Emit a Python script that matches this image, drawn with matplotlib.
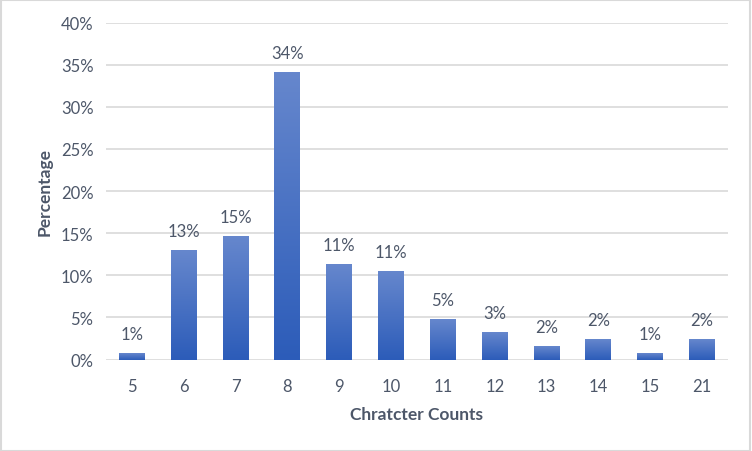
import matplotlib.pyplot as plt
import numpy as np
from matplotlib.colors import LinearSegmentedColormap
from matplotlib.ticker import PercentFormatter

categories = ['5', '6', '7', '8', '9', '10', '11', '12', '13', '14', '15', '21']
values = [0.008, 0.130, 0.147, 0.341, 0.113, 0.105, 0.048, 0.033, 0.016, 0.024, 0.008, 0.024]
labels = ['1%', '13%', '15%', '34%', '11%', '11%', '5%', '3%', '2%', '2%', '1%', '2%']

text_color = '#4d5769'
grid_color = '#d9d9d9'
plt.rcParams['font.family'] = ['Lato', 'DejaVu Sans']

fig = plt.figure(figsize=(7.52, 4.52), dpi=100)
ax = fig.add_axes([0.141, 0.2024, 0.827, 0.7452])

x = np.arange(len(categories))
bars = ax.bar(x, values, width=0.5, color='none', edgecolor='none', zorder=3)

# gradient fill per bar, light at top, dark at bottom
cmap = LinearSegmentedColormap.from_list('bar', ['#2c5cb9', '#6687cd'])
grad = np.linspace(0, 1, 256).reshape(-1, 1)
for b in bars:
    x0, y0 = b.get_x(), b.get_y()
    w, h = b.get_width(), b.get_height()
    im = ax.imshow(grad, cmap=cmap, origin='lower', aspect='auto',
                   extent=(x0, x0 + w, y0, y0 + h), zorder=3)
    im.set_clip_path(b)

for xi, v, lab in zip(x, values, labels):
    ax.annotate(lab, (xi, v), xytext=(0, 8), textcoords='offset points',
                ha='center', va='bottom', fontsize=12, color=text_color)

ax.set_xlim(-0.5, len(categories) - 0.5)
ax.set_ylim(0, 0.40)
ax.set_yticks(np.arange(0, 0.41, 0.05))
ax.yaxis.set_major_formatter(PercentFormatter(1.0, decimals=0))
ax.set_xticks(x)
ax.set_xticklabels(categories)
ax.tick_params(axis='both', length=0, labelsize=12, colors=text_color)
ax.tick_params(axis='x', pad=13)
ax.tick_params(axis='y', pad=9)
ax.grid(axis='y', color=grid_color, linewidth=1.2, zorder=0)
ax.set_axisbelow(True)
for s in ax.spines.values():
    s.set_visible(False)

ax.set_xlabel('Chratcter Counts', fontsize=12.5, fontweight='bold', color=text_color, labelpad=9)
ax.set_ylabel('Percentage', fontsize=12.5, fontweight='bold', color=text_color, labelpad=6)

fig.patches.append(plt.Rectangle((0.001, 0.001), 0.997, 0.996, transform=fig.transFigure,
                                 fill=False, edgecolor=grid_color, linewidth=1.5))

fig.savefig('out.png', dpi=100)
